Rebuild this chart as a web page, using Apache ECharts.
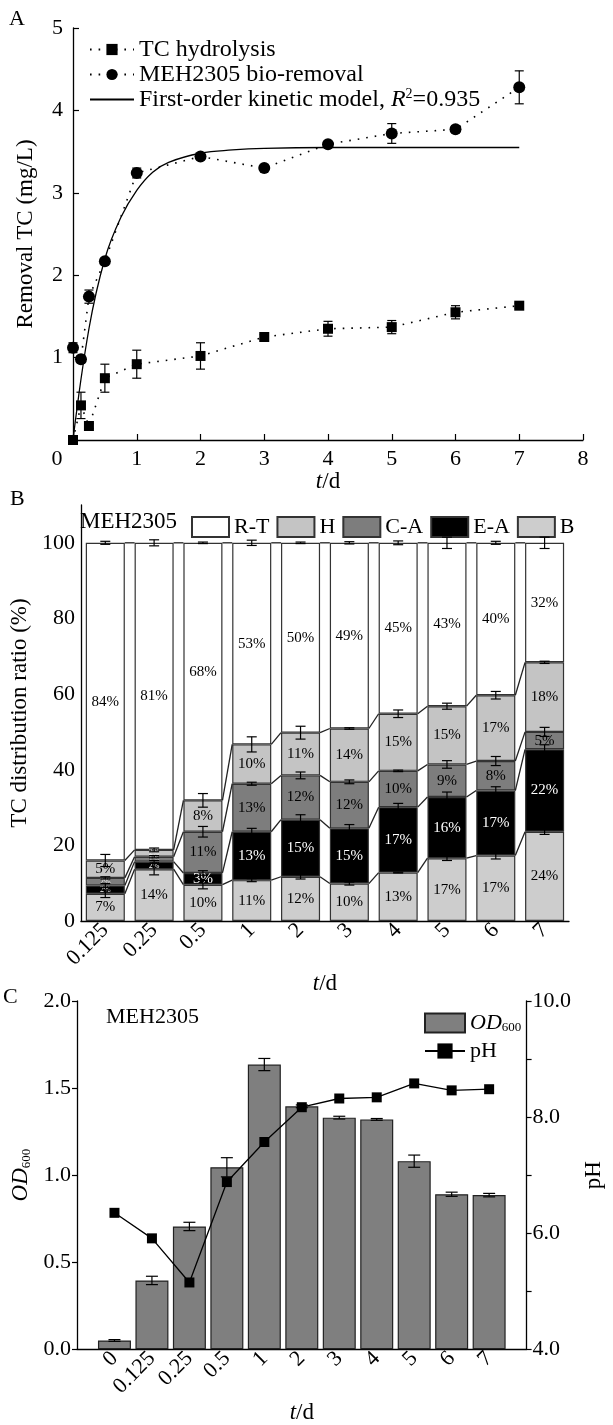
<!DOCTYPE html>
<html>
<head>
<meta charset="utf-8">
<script src="https://cdn.jsdelivr.net/npm/echarts@6/dist/echarts.min.js"></script>
<style>
html, body { margin: 0; padding: 0; background: #fff; }
#main { width: 613px; height: 1425px; }
</style>
</head>
<body>
<div id="main"></div>
<script>
// ---- panel A: removal TC over time ----
var tA = [0, 0.125, 0.25, 0.5, 1, 2, 3, 4, 5, 6, 7];
var hydro = [0, 0.42, 0.17, 0.75, 0.92, 1.02, 1.25, 1.35, 1.37, 1.55, 1.63];
var hydroErr = [0.02, 0.16, 0.03, 0.17, 0.17, 0.16, 0.03, 0.09, 0.08, 0.08, 0.03];
var bio = [1.12, 0.98, 1.74, 2.17, 3.24, 3.44, 3.30, 3.59, 3.72, 3.77, 4.28];
var bioErr = [0.06, 0.04, 0.08, 0.02, 0.06, 0.03, 0.03, 0.03, 0.12, 0.04, 0.2];
// first-order fit curve
var fitT = [0, 0.25, 0.5, 0.75, 1, 1.25, 1.5, 2, 2.5, 3, 4, 5, 6, 7];
var fitV = [0, 1.35, 2.2, 2.7, 3.03, 3.25, 3.37, 3.48, 3.52, 3.54, 3.55, 3.55, 3.55, 3.55];

// ---- panel B: TC distribution ratio (%) ----
var daysB = ['0.125', '0.25', '0.5', '1', '2', '3', '4', '5', '6', '7'];
var bB  = [7.2, 13.7, 9.6, 10.8, 11.7, 9.9, 12.8, 16.6, 17.3, 23.6];
var eaB = [2.2, 2.0, 3.1, 12.8, 15.1, 14.6, 17.3, 16.2, 17.2, 21.8];
var caB = [2.0, 1.3, 10.9, 12.7, 11.7, 12.3, 9.6, 8.6, 7.8, 4.6];
var hB  = [4.6, 1.8, 8.3, 10.4, 11.3, 14.1, 15.1, 15.4, 17.4, 18.4];
var rtB = [84.0, 81.2, 68.1, 53.3, 50.2, 49.1, 45.2, 43.2, 40.3, 31.6];
var bErr  = [1.0, 1.5, 1.1, 0.4, 0.6, 0.4, 0.1, 0.6, 0.9, 0.7];
var eaErr = [0.5, 0.3, 0.6, 0.9, 1.3, 1.0, 1.0, 1.3, 1.0, 1.2];
var caErr = [0.3, 0.3, 1.4, 0.4, 0.9, 0.5, 0.2, 1.0, 1.2, 1.2];
var hErr  = [1.6, 0.5, 1.8, 2.0, 1.7, 0.2, 1.0, 0.8, 1.0, 0.3];
var rtErr = [0.4, 0.8, 0.2, 0.7, 0.2, 0.3, 0.5, 1.5, 0.4, 1.5];

// ---- panel C: OD600 and pH ----
var daysC = ['0', '0.125', '0.25', '0.5', '1', '2', '3', '4', '5', '6', '7'];
var od = [0.05, 0.395, 0.705, 1.045, 1.635, 1.395, 1.33, 1.32, 1.08, 0.89, 0.885];
var odErr = [0.005, 0.024, 0.024, 0.055, 0.035, 0.008, 0.008, 0.005, 0.035, 0.012, 0.01];
var ph = [6.35, 5.91, 5.15, 6.88, 7.57, 8.17, 8.32, 8.34, 8.58, 8.46, 8.48];

var serif = 'Liberation Serif';
var tick = 22;
var axLine = { show: true, onZero: false, lineStyle: { color: '#000', width: 1.3 } };
var tdName = '{i|t}{n|/d}';
var tdRich = {
    i: { fontFamily: serif, fontSize: 23, fontStyle: 'italic', color: '#000' },
    n: { fontFamily: serif, fontSize: 23, color: '#000' }
};
var idxC = daysC.map(function (d, i) { return i; });

// error bar drawer
function errBar(capW) {
    return function (params, api) {
        var x = api.value(0);
        var p1 = api.coord([x, api.value(1)]);
        var p2 = api.coord([x, api.value(2)]);
        var st = { stroke: '#000', lineWidth: 1.2 };
        return {
            type: 'group',
            children: [
                { type: 'line', shape: { x1: p1[0], y1: p1[1], x2: p2[0], y2: p2[1] }, style: st },
                { type: 'line', shape: { x1: p1[0] - capW, y1: p1[1], x2: p1[0] + capW, y2: p1[1] }, style: st },
                { type: 'line', shape: { x1: p2[0] - capW, y1: p2[1], x2: p2[0] + capW, y2: p2[1] }, style: st }
            ]
        };
    };
}

function errData(xs, vals, errs) {
    return vals.map(function (v, i) { return [xs[i], v - errs[i], v + errs[i]]; });
}

function pairs(xs, ys) {
    return ys.map(function (v, i) { return [xs[i], v]; });
}

// cumulative tops for panel B
var levels = [bB, eaB, caB, hB, rtB];
var cum = [];
var run = daysB.map(function () { return 0; });
levels.forEach(function (arr) {
    run = run.map(function (s, i) { return s + arr[i]; });
    cum.push(run.slice());
});

var errsB = [bErr, eaErr, caErr, hErr, rtErr];
var errDataB = [];
cum.forEach(function (lv, k) {
    lv.forEach(function (v, i) { errDataB.push([i, v - errsB[k][i], v + errsB[k][i]]); });
});

var linkData = [];
cum.forEach(function (lv) {
    for (var i = 0; i < lv.length - 1; i++) linkData.push([i, lv[i], lv[i + 1]]);
});

function segData(arr, dark) {
    return arr.map(function (v) {
        if (v < 3) {
            return { value: v, label: { fontSize: 8, color: dark ? '#fff' : '#eee' } };
        }
        return v;
    });
}

function stackBar(name, arr, color, txt) {
    return {
        name: name, type: 'bar', stack: 'tc', xAxisIndex: 1, yAxisIndex: 1,
        barWidth: '80%',
        data: segData(arr, txt === '#fff'),
        itemStyle: { color: color, borderColor: '#333', borderWidth: 1.2 },
        label: {
            show: true, position: 'inside', fontFamily: serif, fontSize: 15, color: txt,
            formatter: function (p) { return Math.round(p.value) + '%'; }
        }
    };
}

var option = {
    animation: false,
    backgroundColor: '#fff',
    textStyle: { fontFamily: serif, color: '#000' },
    grid: [
        { left: 73, top: 28, width: 510, height: 412 },
        { left: 74, top: 505, width: 495, height: 416 },
        { left: 77, top: 1001, width: 484, height: 365 }
    ],
    graphic: [
        { type: 'text', left: 9, top: 8, style: { text: 'A', font: '22px "Liberation Serif"', fill: '#000' } },
        { type: 'text', left: 10, top: 488, style: { text: 'B', font: '22px "Liberation Serif"', fill: '#000' } },
        { type: 'text', left: 3, top: 986, style: { text: 'C', font: '22px "Liberation Serif"', fill: '#000' } },
        { type: 'text', left: 80, top: 510, style: { text: 'MEH2305', font: '23px "Liberation Serif"', fill: '#000' } },
        { type: 'text', left: 106, top: 1006, style: { text: 'MEH2305', font: '22px "Liberation Serif"', fill: '#000' } }
    ],
    legend: [
        {
            orient: 'vertical', left: 84, top: 32, itemGap: 0, itemWidth: 44, itemHeight: 14,
            data: [
                'TC hydrolysis',
                'MEH2305 bio-removal',
                { name: 'First-order kinetic model', itemStyle: { opacity: 0 } }
            ],
            textStyle: {
                fontFamily: serif, fontSize: 24, color: '#000', lineHeight: 25,
                rich: {
                    n: { fontFamily: serif, fontSize: 24, color: '#000', lineHeight: 25 },
                    i: { fontFamily: serif, fontSize: 24, fontStyle: 'italic', color: '#000', lineHeight: 25 },
                    s: { fontFamily: serif, fontSize: 14, color: '#000', verticalAlign: 'top', lineHeight: 25 }
                }
            },
            formatter: function (name) {
                if (name === 'First-order kinetic model') {
                    return '{n|First-order kinetic model, }{i|R}{s|2}{n|=0.935}';
                }
                return '{n|' + name + '}';
            }
        },
        {
            orient: 'horizontal', left: 186, top: 511, itemGap: 7, itemWidth: 37, itemHeight: 20,
            icon: 'rect',
            data: ['R-T', 'H', 'C-A', 'E-A', 'B'],
            textStyle: { fontFamily: serif, fontSize: 22, color: '#000' }
        },
        {
            orient: 'vertical', left: 419, top: 1007, itemGap: 6, itemWidth: 40, itemHeight: 19,
            data: [{ name: 'OD600', icon: 'rect' }, 'pH'],
            textStyle: {
                fontFamily: serif, fontSize: 22, color: '#000',
                rich: {
                    i: { fontFamily: serif, fontSize: 22, fontStyle: 'italic', color: '#000' },
                    s: { fontFamily: serif, fontSize: 13, color: '#000', verticalAlign: 'bottom' },
                    n: { fontFamily: serif, fontSize: 22, color: '#000' }
                }
            },
            formatter: function (name) {
                return name === 'OD600' ? '{i|OD}{s|600}' : '{n|pH}';
            }
        }
    ],
    xAxis: [
        {
            type: 'value', gridIndex: 0, min: 0, max: 8, interval: 1,
            axisLine: axLine, splitLine: { show: false },
            axisTick: { inside: true, length: 6, lineStyle: { color: '#000', width: 1.2 } },
            axisLabel: {
                fontFamily: serif, fontSize: tick, color: '#000', margin: 8,
                formatter: function (v) { return v === 0 ? '{z|0}' : String(v); },
                rich: { z: { fontFamily: serif, fontSize: tick, color: '#000', padding: [0, 32, 0, 0] } }
            },
            name: tdName, nameLocation: 'middle', nameGap: 28,
            nameTextStyle: { rich: tdRich }
        },
        {
            type: 'category', gridIndex: 1, data: daysB,
            axisLine: axLine, axisTick: { show: false },
            axisLabel: { fontFamily: serif, fontSize: tick, color: '#000', rotate: 45, margin: 6 },
            name: tdName, nameLocation: 'middle', nameGap: 35,
            nameTextStyle: { rich: tdRich }
        },
        {
            type: 'value', gridIndex: 2, min: -1, max: 11, interval: 1,
            axisLine: axLine, axisTick: { show: false }, splitLine: { show: false },
            axisLabel: {
                fontFamily: serif, fontSize: tick, color: '#000', rotate: 45, margin: 6,
                formatter: function (v) { return daysC[v] !== undefined ? daysC[v] : ''; }
            },
            name: tdName, nameLocation: 'middle', nameGap: 44,
            nameTextStyle: { rich: tdRich }
        }
    ],
    yAxis: [
        {
            type: 'value', gridIndex: 0, min: 0, max: 5, interval: 1,
            axisLine: axLine, splitLine: { show: false },
            axisTick: { inside: true, length: 6, lineStyle: { color: '#000', width: 1.2 } },
            axisLabel: { fontFamily: serif, fontSize: tick, color: '#000', margin: 10, showMinLabel: false },
            name: 'Removal TC (mg/L)', nameLocation: 'middle', nameGap: 36,
            nameTextStyle: { fontFamily: serif, fontSize: 23, color: '#000' }
        },
        {
            type: 'value', gridIndex: 1, min: 0, max: 110, interval: 20,
            axisLine: axLine, splitLine: { show: false },
            axisTick: { inside: true, length: 6, customValues: [0, 20, 40, 60, 80, 100], lineStyle: { color: '#000', width: 1.2 } },
            axisLabel: { fontFamily: serif, fontSize: tick, color: '#000', margin: 6, customValues: [0, 20, 40, 60, 80, 100] },
            name: 'TC distribution ratio (%)', nameLocation: 'middle', nameGap: 44,
            nameTextStyle: { fontFamily: serif, fontSize: 23, color: '#000' }
        },
        {
            type: 'value', gridIndex: 2, min: 0, max: 2, interval: 0.5,
            axisLine: axLine, splitLine: { show: false },
            axisTick: { inside: false, length: 5, lineStyle: { color: '#000', width: 1.2 } },
            axisLabel: {
                fontFamily: serif, fontSize: tick, color: '#000', margin: 6,
                formatter: function (v) { return v.toFixed(1); }
            },
            name: '{i|OD}{s|600}', nameLocation: 'middle', nameGap: 44,
            nameTextStyle: {
                rich: {
                    i: { fontFamily: serif, fontSize: 23, fontStyle: 'italic', color: '#000' },
                    s: { fontFamily: serif, fontSize: 13, color: '#000', verticalAlign: 'bottom' }
                }
            }
        },
        {
            type: 'value', gridIndex: 2, position: 'right', min: 4, max: 10, interval: 1,
            axisLine: axLine, splitLine: { show: false },
            axisTick: { inside: false, length: 5, lineStyle: { color: '#000', width: 1.2 } },
            axisLabel: {
                fontFamily: serif, fontSize: tick, color: '#000', margin: 6,
                formatter: function (v) { return v % 2 === 0 ? v.toFixed(1) : ''; }
            },
            name: 'pH', nameLocation: 'middle', nameGap: 44, nameRotate: 90,
            nameTextStyle: { fontFamily: serif, fontSize: 23, color: '#000' }
        }
    ],
    series: [
        // panel A
        {
            name: 'TC hydrolysis', type: 'line', xAxisIndex: 0, yAxisIndex: 0,
            data: pairs(tA, hydro), symbol: 'rect', symbolSize: 10,
            itemStyle: { color: '#000' },
            lineStyle: { color: '#000', width: 1.6, type: [1.6, 7] }, z: 4
        },
        {
            name: 'MEH2305 bio-removal', type: 'line', xAxisIndex: 0, yAxisIndex: 0,
            data: pairs(tA, bio), symbol: 'circle', symbolSize: 12,
            itemStyle: { color: '#000' },
            lineStyle: { color: '#000', width: 1.6, type: [1.6, 7] }, z: 4
        },
        {
            name: 'First-order kinetic model', type: 'line', xAxisIndex: 0, yAxisIndex: 0,
            data: pairs(fitT, fitV), symbol: 'none', smooth: 0.4,
            itemStyle: { color: '#000' },
            lineStyle: { color: '#000', width: 1.3 }, z: 3
        },
        {
            type: 'custom', xAxisIndex: 0, yAxisIndex: 0, renderItem: errBar(4.5),
            encode: { x: 0, y: [1, 2] }, data: errData(tA, hydro, hydroErr), z: 5
        },
        {
            type: 'custom', xAxisIndex: 0, yAxisIndex: 0, renderItem: errBar(4.5),
            encode: { x: 0, y: [1, 2] }, data: errData(tA, bio, bioErr), z: 5
        },
        // panel B
        stackBar('B', bB, '#cdcdcd', '#000'),
        stackBar('E-A', eaB, '#000000', '#fff'),
        stackBar('C-A', caB, '#7d7d7d', '#000'),
        stackBar('H', hB, '#c4c4c4', '#000'),
        stackBar('R-T', rtB, '#ffffff', '#000'),
        {
            type: 'custom', xAxisIndex: 1, yAxisIndex: 1,
            renderItem: function (params, api) {
                var i = api.value(0);
                var p1 = api.coord([i, api.value(1)]);
                var p2 = api.coord([i + 1, api.value(2)]);
                var hw = api.size([1, 0])[0] * 0.4;
                return {
                    type: 'line',
                    shape: { x1: p1[0] + hw, y1: p1[1], x2: p2[0] - hw, y2: p2[1] },
                    style: { stroke: '#222', lineWidth: 1.3 }
                };
            },
            encode: { x: 0, y: [1, 2] }, data: linkData, z: 3
        },
        {
            type: 'custom', xAxisIndex: 1, yAxisIndex: 1, renderItem: errBar(5),
            encode: { x: 0, y: [1, 2] }, data: errDataB, z: 6
        },
        // panel C
        {
            name: 'OD600', type: 'bar', xAxisIndex: 2, yAxisIndex: 2,
            data: pairs(idxC, od), barWidth: 33,
            itemStyle: { color: '#7f7f7f', borderColor: '#222', borderWidth: 1.2 }
        },
        {
            type: 'custom', xAxisIndex: 2, yAxisIndex: 2, renderItem: errBar(6),
            encode: { x: 0, y: [1, 2] }, data: errData(idxC, od, odErr), z: 5
        },
        {
            name: 'pH', type: 'line', xAxisIndex: 2, yAxisIndex: 3,
            data: pairs(idxC, ph), symbol: 'rect', symbolSize: 10,
            itemStyle: { color: '#000' },
            lineStyle: { color: '#000', width: 1.3 }, z: 6
        }
    ]
};

var chart = echarts.init(document.getElementById('main'));
chart.setOption(option);
</script>
</body>
</html>
